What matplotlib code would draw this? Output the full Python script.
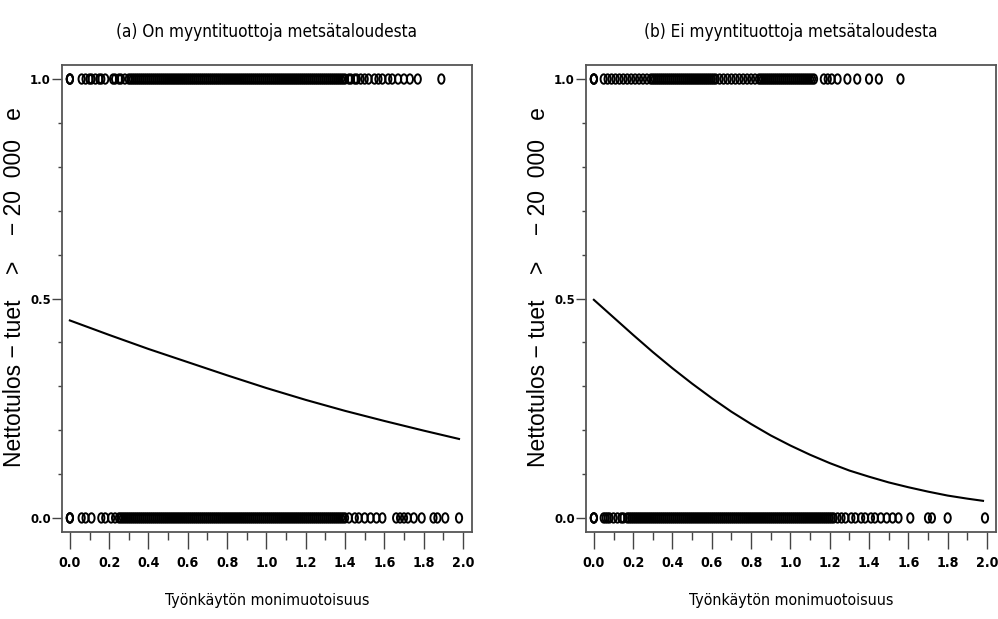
import numpy as np
import matplotlib
matplotlib.use("Agg")
import matplotlib.pyplot as plt
from matplotlib import font_manager
from matplotlib.path import Path
from matplotlib.ticker import MultipleLocator

# curve values
curve_x_a = [0.0, 0.2, 0.4, 0.6, 0.8, 1.0, 1.2, 1.4, 1.6, 1.8, 1.98]
curve_y_a = [0.450, 0.417, 0.385, 0.355, 0.325, 0.296, 0.269, 0.244, 0.221, 0.199, 0.180]

curve_x_b = [0.0, 0.1, 0.2, 0.3, 0.4, 0.5, 0.6, 0.7, 0.8, 0.9, 1.0,
             1.1, 1.2, 1.3, 1.4, 1.5, 1.6, 1.7, 1.8, 1.9, 1.98]
curve_y_b = [0.497, 0.457, 0.417, 0.378, 0.341, 0.306, 0.273, 0.242, 0.214, 0.188, 0.165,
             0.144, 0.125, 0.108, 0.094, 0.081, 0.070, 0.060, 0.051, 0.044, 0.039]

# observations (x values) with outcome 1 and outcome 0
obs1_a = [0.0, 0.0, 0.0, 0.06, 0.08, 0.10, 0.11, 0.13, 0.15, 0.16, 0.18,
          0.22, 0.23, 0.25, 0.26, 0.28, 0.30, 0.31,
          0.32, 0.33, 0.34, 0.35, 0.36, 0.37, 0.38, 0.39,
          0.40, 0.41, 0.42, 0.43, 0.44, 0.45, 0.46, 0.47, 0.48, 0.49,
          0.50, 0.51, 0.52, 0.53, 0.54, 0.55, 0.56, 0.57, 0.58, 0.59,
          0.60, 0.61, 0.62, 0.63, 0.64, 0.65, 0.66, 0.67, 0.68, 0.69,
          0.70, 0.71, 0.72, 0.73, 0.74, 0.75, 0.76, 0.77, 0.78, 0.79,
          0.80, 0.81, 0.82, 0.83, 0.84, 0.85, 0.86, 0.87, 0.88, 0.89,
          0.90, 0.91, 0.92, 0.93, 0.94, 0.95, 0.96, 0.97, 0.98, 0.99,
          1.00, 1.01, 1.02, 1.03, 1.04, 1.05, 1.06, 1.07, 1.08, 1.09,
          1.10, 1.11, 1.12, 1.13, 1.14, 1.15, 1.16, 1.17, 1.18, 1.19,
          1.20, 1.21, 1.22, 1.23, 1.24, 1.25, 1.26, 1.27, 1.28, 1.29,
          1.30, 1.31, 1.32, 1.33, 1.34, 1.35, 1.36, 1.37, 1.38, 1.39,
          1.40, 1.42, 1.43, 1.45, 1.46, 1.48, 1.50, 1.52, 1.55, 1.57,
          1.59, 1.62, 1.64, 1.67, 1.70, 1.73, 1.77, 1.89]
obs0_a = [0.0, 0.0, 0.0, 0.06, 0.08, 0.11, 0.16, 0.18, 0.21, 0.23, 0.25,
          0.26, 0.27, 0.28, 0.29, 0.30, 0.31, 0.32, 0.33, 0.34, 0.35,
          0.36, 0.37, 0.38, 0.39,
          0.40, 0.41, 0.42, 0.43, 0.44, 0.45, 0.46, 0.47, 0.48, 0.49,
          0.50, 0.51, 0.52, 0.53, 0.54, 0.55, 0.56, 0.57, 0.58, 0.59,
          0.60, 0.61, 0.62, 0.63, 0.64, 0.65, 0.66, 0.67, 0.68, 0.69,
          0.70, 0.71, 0.72, 0.73, 0.74, 0.75, 0.76, 0.77, 0.78, 0.79,
          0.80, 0.81, 0.82, 0.83, 0.84, 0.85, 0.86, 0.87, 0.88, 0.89,
          0.90, 0.91, 0.92, 0.93, 0.94, 0.95, 0.96, 0.97, 0.98, 0.99,
          1.00, 1.01, 1.02, 1.03, 1.04, 1.05, 1.06, 1.07, 1.08, 1.09,
          1.10, 1.11, 1.12, 1.13, 1.14, 1.15, 1.16, 1.17, 1.18, 1.19,
          1.20, 1.21, 1.22, 1.23, 1.24, 1.25, 1.26, 1.27, 1.28, 1.29,
          1.30, 1.31, 1.32, 1.33, 1.34, 1.35, 1.36, 1.37, 1.38, 1.39,
          1.40, 1.42, 1.45, 1.47, 1.50, 1.53, 1.56, 1.59, 1.66, 1.68,
          1.70, 1.72, 1.75, 1.79, 1.85, 1.87, 1.91, 1.98]

obs1_b = [0.0, 0.0, 0.0, 0.05, 0.07, 0.09, 0.11, 0.13, 0.15, 0.17, 0.19,
          0.21, 0.23, 0.25, 0.27, 0.29,
          0.30, 0.31, 0.32, 0.33, 0.34, 0.35, 0.36, 0.37, 0.38, 0.39,
          0.40, 0.41, 0.42, 0.43, 0.44, 0.45, 0.46, 0.47, 0.48, 0.49,
          0.50, 0.51, 0.52, 0.53, 0.54, 0.55, 0.56, 0.57, 0.58, 0.59,
          0.60, 0.61, 0.62, 0.64, 0.66, 0.68, 0.70, 0.72, 0.74, 0.76,
          0.78, 0.80, 0.82, 0.84,
          0.85, 0.86, 0.87, 0.88, 0.89,
          0.90, 0.91, 0.92, 0.93, 0.94, 0.95, 0.96, 0.97, 0.98, 0.99,
          1.00, 1.01, 1.02, 1.03, 1.04, 1.05, 1.06, 1.07, 1.08, 1.09,
          1.10, 1.11, 1.12, 1.17, 1.19, 1.21, 1.24, 1.29, 1.34, 1.40,
          1.45, 1.56]
obs0_b = [0.0, 0.0, 0.0, 0.05, 0.06, 0.07, 0.08, 0.10, 0.12, 0.14, 0.15,
          0.17, 0.18, 0.19,
          0.20, 0.21, 0.22, 0.23, 0.24, 0.25, 0.26, 0.27, 0.28, 0.29,
          0.30, 0.31, 0.32, 0.33, 0.34, 0.35, 0.36, 0.37, 0.38, 0.39,
          0.40, 0.41, 0.42, 0.43, 0.44, 0.45, 0.46, 0.47, 0.48, 0.49,
          0.50, 0.51, 0.52, 0.53, 0.54, 0.55, 0.56, 0.57, 0.58, 0.59,
          0.60, 0.61, 0.62, 0.63, 0.64, 0.65, 0.66, 0.67, 0.68, 0.69,
          0.70, 0.71, 0.72, 0.73, 0.74, 0.75, 0.76, 0.77, 0.78, 0.79,
          0.80, 0.81, 0.82, 0.83, 0.84, 0.85, 0.86, 0.87, 0.88, 0.89,
          0.90, 0.91, 0.92, 0.93, 0.94, 0.95, 0.96, 0.97, 0.98, 0.99,
          1.00, 1.01, 1.02, 1.03, 1.04, 1.05, 1.06, 1.07, 1.08, 1.09,
          1.10, 1.11, 1.12, 1.13, 1.14, 1.15, 1.16, 1.17, 1.18, 1.19,
          1.20, 1.21, 1.22, 1.24, 1.26, 1.28, 1.31, 1.33, 1.36, 1.38,
          1.41, 1.43, 1.46, 1.49, 1.52, 1.55, 1.61, 1.70, 1.72, 1.80,
          1.99]

titles = ["(a) On myyntituottoja metsätaloudesta",
          "(b) Ei myyntituottoja metsätaloudesta"]
xlab = "Työnkäytön monimuotoisuus"
ylab = "Nettotulos − tuet    >    − 20  000   e"

# look for a narrow face; fall back to plain Liberation Sans with smaller size
files = {f.fname.split("/")[-1]: f.fname for f in font_manager.fontManager.ttflist}
narrow_reg = narrow_bold = None
scale = 1.0
for reg, bold, sc in [("LiberationSansNarrow-Regular.ttf", "LiberationSansNarrow-Bold.ttf", 1.0),
                      ("DejaVuSansCondensed.ttf", "DejaVuSansCondensed-Bold.ttf", 0.85)]:
    if reg in files:
        narrow_reg = font_manager.FontProperties(fname=files[reg])
        narrow_bold = font_manager.FontProperties(fname=files.get(bold, files[reg]))
        scale = sc
        break
if narrow_reg is None:
    narrow_reg = font_manager.FontProperties(family="Liberation Sans")
    narrow_bold = font_manager.FontProperties(family="Liberation Sans", weight="bold")
    scale = 0.82

def fp(base, size):
    p = base.copy()
    p.set_size(size * scale)
    return p

# slightly tall open circle, as in the original plot
circ = Path.unit_circle()
oval = Path(circ.vertices * np.array([0.66, 1.0]), circ.codes)

fig = plt.figure(figsize=(9.98, 6.19), dpi=100)
axes = [fig.add_axes([62 / 998, 87 / 619, 410 / 998, 467 / 619]),
        fig.add_axes([586 / 998, 87 / 619, 410 / 998, 467 / 619])]

panels = [(curve_x_a, curve_y_a, obs1_a, obs0_a),
          (curve_x_b, curve_y_b, obs1_b, obs0_b)]

xt = [0.0, 0.2, 0.4, 0.6, 0.8, 1.0, 1.2, 1.4, 1.6, 1.8, 2.0]

for ax, title, (cx, cy, o1, o0) in zip(axes, titles, panels):
    ax.scatter(o1, np.ones(len(o1)), marker=oval, s=46, facecolors="none",
               edgecolors="black", linewidths=1.4)
    ax.scatter(o0, np.zeros(len(o0)), marker=oval, s=46, facecolors="none",
               edgecolors="black", linewidths=1.4)
    ax.plot(cx, cy, color="black", lw=1.5)

    ax.set_xlim(-0.04, 2.046)
    ax.set_ylim(-0.032, 1.032)
    ax.xaxis.set_minor_locator(MultipleLocator(0.1))
    ax.yaxis.set_minor_locator(MultipleLocator(0.1))
    ax.tick_params(which="major", axis="x", length=12, width=1, pad=5, color="#444")
    ax.tick_params(which="minor", axis="x", length=6, width=1, color="#444")
    ax.tick_params(which="major", axis="y", length=7, width=1, pad=1, color="#444")
    ax.tick_params(which="minor", axis="y", length=3, width=1, color="#444")
    ax.set_xticks(xt)
    ax.set_xticklabels([f"{v:.1f}" for v in xt], fontproperties=fp(narrow_bold, 12))
    ax.set_yticks([0.0, 0.5, 1.0])
    ax.set_yticklabels(["0.0", "0.5", "1.0"], fontproperties=fp(narrow_bold, 11))
    for s in ax.spines.values():
        s.set_color("#555")
        s.set_linewidth(1.3)

    ax.set_title(title, fontproperties=fp(narrow_reg, 14.5), pad=20)
    ax.set_xlabel(xlab, fontproperties=fp(narrow_reg, 13.5), labelpad=17)
    ax.set_ylabel(ylab, family=["Liberation Sans", "DejaVu Sans"], fontsize=16.5)
    ax.yaxis.set_label_coords(-0.088, 0.525)

fig.savefig("out.png", dpi=100)
